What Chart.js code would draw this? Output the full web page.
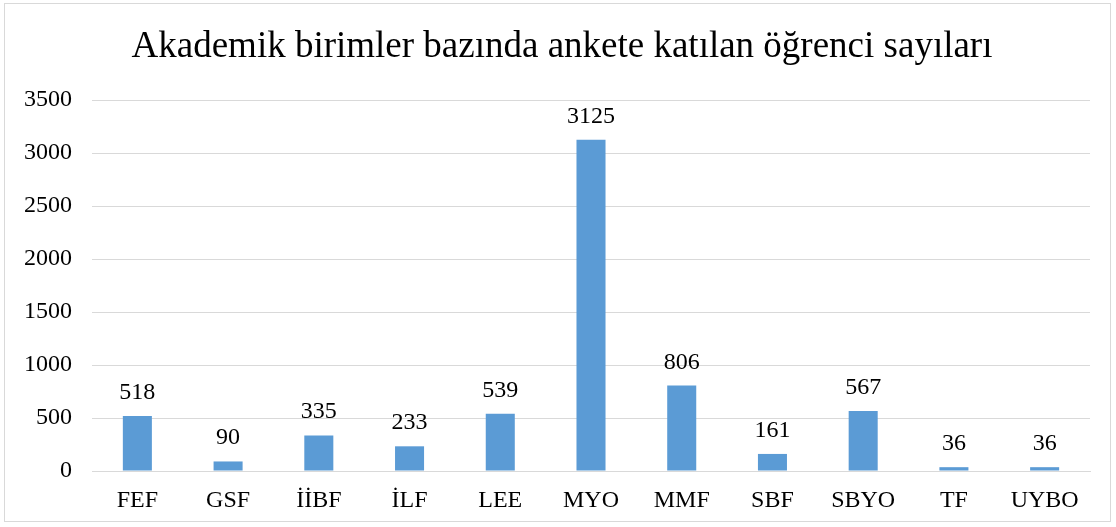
<!DOCTYPE html>
<html>
<head>
<meta charset="utf-8">
<script src="https://cdn.jsdelivr.net/npm/chart.js@4"></script>
<style>
  html, body { margin: 0; padding: 0; background: #fff; }
  #wrap { width: 1116px; height: 527px; }
</style>
</head>
<body>
<div id="wrap"><canvas id="chart" width="1116" height="527"></canvas></div>
<script>
const TITLE = 'Akademik birimler bazında ankete katılan öğrenci sayıları';
const UNITS = ['FEF', 'GSF', 'İİBF', 'İLF', 'LEE', 'MYO', 'MMF', 'SBF', 'SBYO', 'TF', 'UYBO'];
const STUDENTS = [518, 90, 335, 233, 539, 3125, 806, 161, 567, 36, 36];
const Y_TICKS = [0, 500, 1000, 1500, 2000, 2500, 3000, 3500];

const SERIF = '"Liberation Serif", "Times New Roman", serif';

// white page, thin grey frame and the title (centred on the whole frame, as Excel does)
const frame = {
  id: 'frame',
  beforeDraw(chart) {
    const ctx = chart.ctx;
    ctx.save();
    ctx.fillStyle = '#fff';
    ctx.fillRect(0, 0, chart.width, chart.height);
    ctx.strokeStyle = '#d9d9d9';
    ctx.lineWidth = 1;
    ctx.strokeRect(4.5, 3.5, 1106, 518);
    ctx.font = '37px ' + SERIF;
    ctx.fillStyle = '#000';
    ctx.textAlign = 'center';
    ctx.textBaseline = 'alphabetic';
    ctx.fillText(TITLE, 562, 57);
    ctx.restore();
  }
};

// value labels above the bars
const valueLabels = {
  id: 'valueLabels',
  afterDatasetsDraw(chart) {
    const ctx = chart.ctx;
    const meta = chart.getDatasetMeta(0);
    ctx.save();
    ctx.font = '24px ' + SERIF;
    ctx.fillStyle = '#000';
    ctx.textAlign = 'center';
    ctx.textBaseline = 'alphabetic';
    meta.data.forEach((bar, i) => {
      ctx.fillText(String(STUDENTS[i]), bar.x, bar.y - 17);
    });
    ctx.restore();
  }
};

new Chart(document.getElementById('chart'), {
  type: 'bar',
  data: {
    labels: UNITS,
    datasets: [{
      data: STUDENTS,
      backgroundColor: '#5b9bd5',
      borderWidth: 0,
      categoryPercentage: 1,
      barPercentage: 0.32
    }]
  },
  options: {
    responsive: false,
    animation: false,
    layout: { padding: { left: 0, right: 26, top: 100, bottom: 0 } },
    plugins: {
      legend: { display: false },
      tooltip: { enabled: false },
      title: { display: false }
    },
    scales: {
      x: {
        afterFit: s => { s.height = 56; },
        grid: { display: false, drawTicks: false },
        border: { color: '#d9d9d9', width: 1 },
        ticks: { color: '#000', font: { family: SERIF, size: 24 }, padding: 15 }
      },
      y: {
        min: 0,
        max: 3500,
        afterFit: s => { s.width = 92; },
        afterBuildTicks: s => { s.ticks = Y_TICKS.map(v => ({ value: v })); },
        grid: { color: '#d9d9d9', drawTicks: false },
        border: { display: false },
        ticks: {
          color: '#000',
          font: { family: SERIF, size: 24 },
          padding: 20,
          callback: v => String(v)
        }
      }
    }
  },
  plugins: [frame, valueLabels]
});
</script>
</body>
</html>
